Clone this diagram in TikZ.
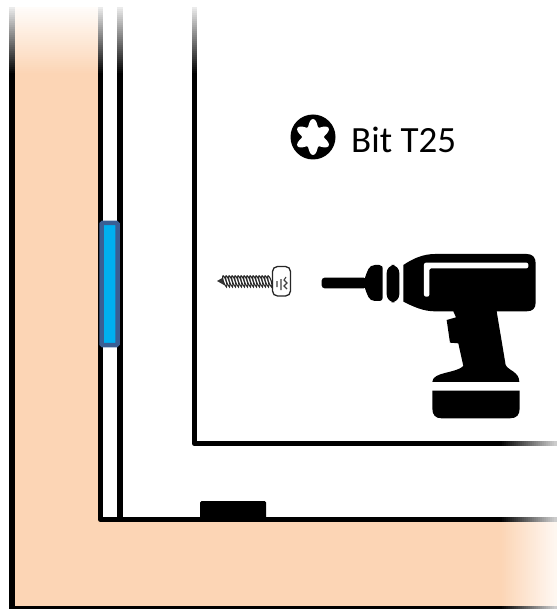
\documentclass[tikz,border=0pt]{standalone}
\usepackage{fontspec}
\setmainfont{Carlito}
\definecolor{Wall}{HTML}{FCD5B5}
\definecolor{Plug}{HTML}{00B0F0}
\definecolor{PlugEdge}{HTML}{3A5F94}
\tikzset{
  wallline/.style={draw=black, line width=5.5pt, line join=round},
  thread/.style={draw=black!85, line width=1.1pt, fill=white}
}
\begin{document}
\begin{tikzpicture}[x=1pt, y=-1pt]
    \useasboundingbox (0,0) rectangle (556,609);
    % wall and cabinet
    \fill[Wall] (12,75) -- (100.5,75) -- (100.5,519.5) -- (500,519.5) -- (500,609) -- (12,609) -- cycle;
    \draw[wallline] (12,74) -- (12,608.5) -- (501,608.5);
    \draw[wallline] (100.5,74) -- (100.5,519.5) -- (501,519.5);
    \draw[wallline] (120,74) -- (120,519.5);
    \draw[wallline] (194.5,74) -- (194.5,443.5) -- (501,443.5);
    % fades at the cut edges
    \foreach \s in {0,...,33} {
      \pgfmathsetmacro{\pct}{8+92*\s/33}
      \pgfmathsetmacro{\ya}{7+2*\s}
      \fill[Wall!\pct!white] (12,\ya) rectangle (100.5,{\ya+2.5});
      \foreach \x in {12,100.5,120,194.5} {
        \fill[black!\pct] ({\x-2.75},\ya) rectangle ({\x+2.75},{\ya+2.5});
      }
    }
    \foreach \s in {0,...,27} {
      \pgfmathsetmacro{\pct}{100-80*\s/27}
      \pgfmathsetmacro{\xa}{500+2*\s}
      \fill[Wall!\pct!white] (\xa,519.5) rectangle ({\xa+2.5},609);
      \foreach \y in {443.5,519.5,608.5} {
        \fill[black!\pct] (\xa,{\y-2.75}) rectangle ({\xa+2.5},{\y+2.75});
      }
    }
    \fill[black, rounded corners=1.5pt] (200,519) -- (200,501) -- (266,501) -- (266,519) -- cycle;
    \draw[fill=Plug, draw=PlugEdge, line width=4.5pt, rounded corners=1pt] (101.5,223) rectangle (117.5,345);
    % bit
    \fill[black] (313,137) circle (22.5);
    \fill[white] plot[domain=0:360, samples=73, smooth] ({313+(14.5-3.5*cos(6*\x))*cos(\x)}, {137+(14.5-3.5*cos(6*\x))*sin(\x)}) -- cycle;
    \node[anchor=west, inner sep=0pt, font=\fontsize{37}{37}\selectfont] (bit) at (351,140) {Bit T25};
    % screw
    \fill[black!80] (217,281) -- (224,277) -- (224,285) -- cycle;
    \foreach \i in {0,...,15} {
      \draw[thread] ({223+\i*3},275.5) .. controls ({225.5+\i*3},277) and ({228+\i*3},285) .. ({226.5+\i*3},287) .. controls ({224+\i*3},285) and ({221.5+\i*3},277) .. ({223+\i*3},275.5);
    }
    \draw[black!85, line width=1.3pt, fill=white, rounded corners=5pt] (272.5,266.5) rectangle (290.5,296);
    \draw[black!75, line width=1.1pt] (277,281) -- (277,287) (281,279) -- (281,290) (286,277) -- (284,280) -- (287,283) -- (284,286) -- (287,289);
    % drill
    \begin{scope}[shift={(310,240)}, x=0.3333pt, y=-0.3333pt]
      \fill[black, rounded corners=3pt] (35,113) rectangle (170,145);
      \fill[black] (165,113) .. controls (172,95) and (175,75) .. (195,75) -- (208,75) .. controls (216,75) and (218,80) .. (218,90) -- (218,170) .. controls (218,180) and (215,183) .. (205,183) -- (195,183) .. controls (175,183) and (172,163) .. (165,145) -- cycle;
      \fill[black, rounded corners=8pt] (230,75) rectangle (268,187);
      \fill[black] (280,75) .. controls (310,55) and (340,42) .. (375,42) -- (650,42) .. controls (668,42) and (677,52) .. (677,70) -- (677,188) .. controls (677,205) and (668,214) .. (650,214) -- (560,214) -- (587,375) .. controls (595,392) and (628,395) .. (628,426) -- (367,426) .. controls (367,395) and (440,400) .. (460,378) -- (445,310) -- (420,308) -- (410,240) -- (438,232) -- (430,214) -- (375,214) .. controls (340,214) and (310,200) .. (280,185) -- cycle;
      \fill[white, rounded corners=2pt] (342,68) -- (655,68) -- (655,85) -- (358,85) -- (358,170) -- (342,170) -- cycle;
      \fill[black] (367,452) -- (629,452) -- (629,505) .. controls (629,525) and (620,535) .. (600,535) -- (395,535) .. controls (376,535) and (367,525) .. (367,505) -- cycle;
    \end{scope}
\end{tikzpicture}
\end{document}
